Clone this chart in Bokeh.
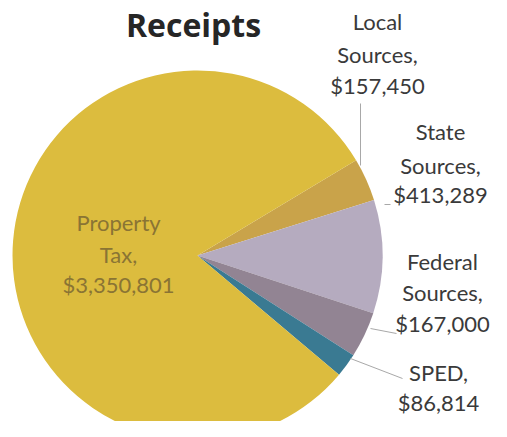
import numpy as np
from bokeh.plotting import figure
from bokeh.models import Range1d
from bokeh.core.properties import value
from bokeh.embed import file_html
from bokeh.resources import INLINE

categories = ["Local Sources", "State Sources", "Federal Sources", "SPED", "Property Tax"]
amounts = [157450, 413289, 167000, 86814, 3350801]
colors = ["#C9A34A", "#B5ABBF", "#928493", "#3A7A92", "#DCBC3E"]

H = 437
W, PH = 491, 421
p = figure(width=W, height=PH, output_backend="svg", toolbar_location=None,
           x_range=Range1d(0, W), y_range=Range1d(H - PH, H), min_border=0)
p.axis.visible = False
p.grid.visible = False
p.outline_line_color = None
p.background_fill_color = "white"

cx, cy, r = 197, H - 255, 185
vals = np.array(amounts, dtype=float)
theta = vals / vals.sum() * 2 * np.pi
start = np.deg2rad(31.0)
tops = start - np.concatenate([[0], np.cumsum(theta)[:-1]])
bottoms = tops - theta
p.wedge(x=cx, y=cy, radius=r, start_angle=bottoms, end_angle=tops,
        fill_color=colors, line_color=None)

# leader lines (picture coords)
lines = [([360, 360], [103, 165]), ([384, 390], [204, 204]),
         ([370, 396], [328, 333]), ([350, 402], [358, 378])]
for xs, ys in lines:
    p.line(xs, [H - y for y in ys], line_color="#a8a8a8", line_width=1)

p.text(x=[193], y=[H - 24], text=["Receipts"], text_font=value("Open Sans"),
       text_font_size="32px", text_font_style="bold", text_color="#262626",
       text_align="center", text_baseline="middle")

font = value("Lato")
labels = [
    (377, [21, 54, 85], ["Local", "Sources,", "$157,450"]),
    (440, [131, 165, 194], ["State", "Sources,", "$413,289"]),
    (442, [261, 292, 323], ["Federal", "Sources,", "$167,000"]),
    (438, [372, 402], ["SPED,", "$86,814"]),
]
for x, ys, txts in labels:
    p.text(x=[x] * len(ys), y=[H - y for y in ys], text=txts, text_font=font,
           text_font_size="22px", text_color="#3a3a3a", text_align="center",
           text_baseline="middle")

p.text(x=[118] * 3, y=[H - 222, H - 254, H - 284], text=["Property", "Tax,", "$3,350,801"],
       text_font=font, text_font_size="22px", text_color="#8A7434",
       text_align="center", text_baseline="middle")

open("out.html", "w").write(file_html(p, INLINE))
